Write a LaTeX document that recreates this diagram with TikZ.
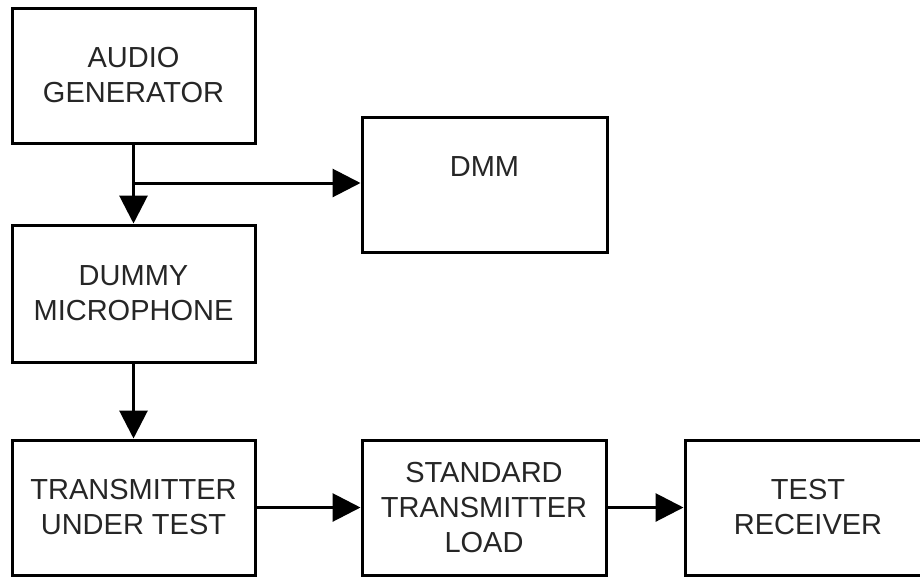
\documentclass[tikz,border=0pt]{standalone}
\usepackage{fontspec}
\setmainfont{Liberation Sans}
\usetikzlibrary{arrows.meta}
\begin{document}
\begin{tikzpicture}[x=1pt,y=-1pt,
  blk/.style={draw=black,line width=3pt,minimum width=243pt,minimum height=135pt,
    inner sep=0pt,align=center,text=black!85,
    font=\fontsize{29}{35}\selectfont},
  arr/.style={line width=3pt,-{Triangle[length=28pt,width=28pt]}}]
\fill[white] (0,0) rectangle (920,576);
\useasboundingbox (0,0) rectangle (920,576);
\clip (0,0) rectangle (920,576);
\node[blk] (ag) at (133.5,75.5) {AUDIO\\GENERATOR};
\node[blk,minimum width=245pt] (dmm) at (484.5,184.5) {DMM\\\phantom{D}};
\node[blk,minimum height=137pt] (dm) at (133.5,293.5) {DUMMY\\MICROPHONE};
\node[blk] (tx) at (133.5,507.5) {TRANSMITTER\\UNDER TEST};
\node[blk,minimum width=244pt] (stl) at (484,507.5) {STANDARD\\TRANSMITTER\\LOAD};
\node[blk,minimum width=246pt] (tr) at (808,507.5) {TEST\\RECEIVER};
\coordinate (br) at (133.5,183);
\draw[arr] (ag.south) -- (dm.north);
\draw[arr] (br) -- (br -| dmm.west);
\draw[arr] (dm.south) -- (tx.north);
\draw[arr] (tx.east) -- (stl.west);
\draw[arr] (stl.east) -- (tr.west);
\end{tikzpicture}
\end{document}
